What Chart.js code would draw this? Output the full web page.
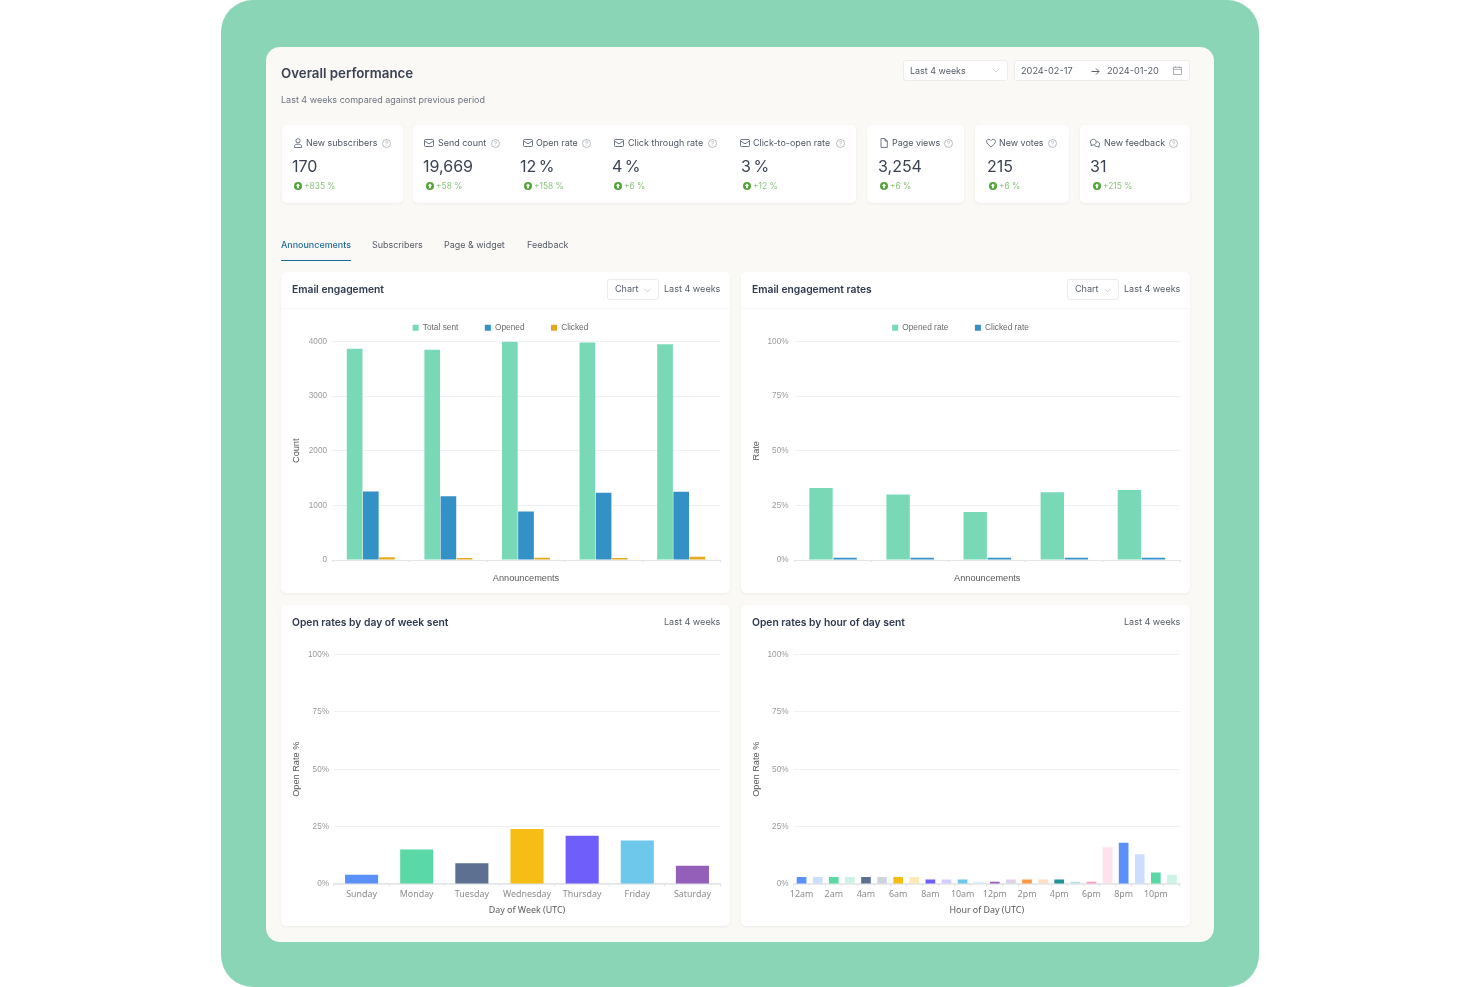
<!DOCTYPE html>
<html><head><meta charset="utf-8">
<script src="https://cdn.jsdelivr.net/npm/chart.js@4/dist/chart.umd.min.js"></script>
<style>
html,body{margin:0;padding:0;background:#fff;width:1480px;height:987px;overflow:hidden;font-family:Inter,sans-serif}
#outer{position:absolute;left:221px;top:0;width:1038px;height:987px;background:#8AD5B6;border-radius:32px}
#panel{position:absolute;left:266px;top:47px;width:948px;height:895px;background:#FBF9F6;border-radius:14px}
#ui{position:absolute;left:0;top:0;width:1480px;height:987px;filter:blur(.3px)}
.card{position:absolute;background:#fff;border-radius:5px;box-shadow:0 1px 3px rgba(60,60,60,.07)}
.t{position:absolute;white-space:nowrap;line-height:14px;transform:translateY(-7px)}
.ctl{position:absolute;background:#fff;border:1px solid #ececec;border-radius:3px;box-sizing:border-box}
.divider{position:absolute;height:1px;background:#f8f7f5}
canvas{position:absolute;filter:blur(.3px)}
svg{position:absolute;overflow:visible}
</style></head><body>
<div id="outer"></div><div id="panel"></div><div id="ui"></div>
<canvas id="c1" style="left:281px;top:297px;width:449px;height:296px"></canvas>
<canvas id="c2" style="left:741px;top:297px;width:449px;height:296px"></canvas>
<canvas id="c3" style="left:281px;top:635px;width:449px;height:291px"></canvas>
<canvas id="c4" style="left:741px;top:635px;width:449px;height:291px"></canvas>
<script>
// ---- chart data ----
const announcements = ["Announcement 1","Announcement 2","Announcement 3","Announcement 4","Announcement 5"];
const totalSent = [3866,3848,3995,3982,3951];
const opened = [1256,1165,890,1232,1250];
const clicked = [49,37,43,37,61];
const openedRate = [33,30,22,31,32];
const clickedRate = [1,1,1,1,1];
const days = ["Sunday","Monday","Tuesday","Wednesday","Thursday","Friday","Saturday"];
const dayRates = [4,15,9,24,21,19,8];
const dayColors = ["#5B8FF9","#5AD8A6","#5D7092","#F6BD16","#6F5EF9","#6DC8EC","#945FB9"];
const hours = ["12am","1am","2am","3am","4am","5am","6am","7am","8am","9am","10am","11am","12pm","1pm","2pm","3pm","4pm","5pm","6pm","7pm","8pm","9pm","10pm","11pm"];
const hourRates = [3,3,3,3,3,3,3,3,2,2,2,1,1,2,2,2,2,1,1,16,18,13,5,4];
const hourColors = ["#5B8FF9","#CEDDFD","#5AD8A6","#CEF3E4","#5D7092","#CED4DE","#F6BD16","#FCEBB9","#6F5EF9","#D3CEFD","#6DC8EC","#D3EEF9","#945FB9","#DFD0EA","#FF9845","#FFE0C7","#1E9493","#BBDEDE","#FF99C3","#FFE0ED","#5B8FF9","#CEDDFD","#5AD8A6","#CEF3E4"];
const pctTicks = [0,25,50,75,100];
// ---- page text ----
const kpiLabels = ["New subscribers","Send count","Open rate","Click through rate","Click-to-open rate","Page views","New votes","New feedback"];
const kpiValues = ["170","19,669","12 %","4 %","3 %","3,254","215","31"];
const kpiDeltas = ["+835 %","+58 %","+158 %","+6 %","+12 %","+6 %","+6 %","+215 %"];
const kpiIcons = ["user","mail","mail","mail","mail","file","heart","chat"];
const tabs = ["Announcements","Subscribers","Page & widget","Feedback"];

const ui = document.getElementById('ui');
function el(html){const d=document.createElement('div');d.innerHTML=html;const n=d.firstChild;ui.appendChild(n);return n;}
function text(x,y,s,css){el(`<div class="t" style="left:${x}px;top:${y}px;${css}">${s}</div>`);}
function box(cls,x,y,w,h){el(`<div class="${cls}" style="left:${x}px;top:${y}px;width:${w}px;height:${h}px"></div>`);}
function svg(x,y,inner,s=10){el(`<svg style="left:${x}px;top:${y}px" width="${s}" height="${s}" viewBox="0 0 10 10" fill="none" stroke="#4a5568" stroke-width=".8">${inner}</svg>`);}
const icons={
 user:'<circle cx="5" cy="2.8" r="2.1"/><path d="M1.4 9.5V8.3C1.4 6.9 2.6 6.2 5 6.2S8.6 6.9 8.6 8.3V9.5Z"/>',
 mail:'<rect x=".5" y="1.5" width="9" height="7" rx="1"/><path d="M.5 3L5 5.8 9.5 3"/>',
 file:'<path d="M2 .6H6L8.3 3V9.4H2Z"/><path d="M6 .6V3H8.3"/>',
 heart:'<path d="M5 8.8C2.4 6.9.6 5.4.6 3.5.6 2.2 1.6 1.3 2.8 1.3 3.7 1.3 4.5 1.8 5 2.6 5.5 1.8 6.3 1.3 7.2 1.3 8.4 1.3 9.4 2.2 9.4 3.5 9.4 5.4 7.6 6.9 5 8.8Z"/>',
 chat:'<path d="M.4 4.2C.4 2.5 1.7 1.3 3.4 1.3S6.2 2.5 6.2 4.1 4.9 6.9 3.2 6.9L1 7.6 1.3 6C.7 5.5.4 4.9.4 4.2Z"/><path d="M6.6 3.6C8.2 3.6 9.6 4.6 9.6 6.1 9.6 6.8 9.3 7.4 8.8 7.8L9.2 9.2 7.3 8.6C6 8.6 4.9 8 4.5 7"/>'
};
function help(x,y){el(`<svg style="left:${x}px;top:${y}px" width="9" height="9" viewBox="0 0 9 9" fill="none" stroke="#9aa0a8" stroke-width=".7"><circle cx="4.5" cy="4.5" r="4"/><path d="M3.4 3.5C3.4 2.8 3.9 2.4 4.5 2.4S5.6 2.8 5.6 3.4C5.6 4.2 4.5 4.2 4.5 5.2M4.5 6.1V6.7"/></svg>`);}
function up(x,y){el(`<svg style="left:${x}px;top:${y}px" width="8" height="8" viewBox="0 0 8 8"><circle cx="4" cy="4" r="4" fill="#52a33a"/><path d="M4 1.6L6.2 4H4.9V6.2H3.1V4H1.8Z" fill="#fff"/></svg>`);}

text(281,73,'Overall performance','font-size:13.3px;font-weight:600;color:#3a4253');
text(281,99.5,'Last 4 weeks compared against previous period','font-size:9px;color:#6d747f');

box('ctl',902.5,60,105,21); box('ctl',1013.5,60,176.5,21);
text(910,70.5,'Last 4 weeks','font-size:8.95px;color:#565d69');
el('<svg style="left:992px;top:68px" width="8" height="5" viewBox="0 0 8 5" fill="none" stroke="#c2c5c9" stroke-width=".8"><path d="M1 .8L4 4 7 .8"/></svg>');
text(1021,70.5,'2024-02-17','font-size:9.2px;color:#565d69');
text(1107,70.5,'2024-01-20','font-size:9.2px;color:#565d69');
el('<svg style="left:1091px;top:66.5px" width="9" height="9" viewBox="0 0 9 9" fill="none" stroke="#4a5059" stroke-width=".9"><path d="M.5 4.5H8M5 1.5L8 4.5 5 7.5"/></svg>');
el('<svg style="left:1173px;top:66px" width="9" height="9" viewBox="0 0 9 9" fill="none" stroke="#9aa0a8" stroke-width=".8"><rect x=".5" y="1.3" width="8" height="7.2"/><path d="M.5 3.4H8.5M2.6.3V2M6.4.3V2"/></svg>');

[[281.5,121],[413,443],[867,97],[975,94],[1080,110]].forEach(c=>box('card',c[0],125,c[1],78));

const iconX=[293,424,523,614,740,879,986,1090], labelX=[306,438,536,628,753,892,999,1104],
      valueX=[292,423,520,612,741,878,987,1090], upX=[294,426,524,614,743,880,989,1093], deltaX=[304,436,534,624,753,890,999,1103],
      helpX=[381.5,490.5,582,708,835.5,943.5,1048,1169];
kpiLabels.forEach((l,i)=>{
  svg(iconX[i],138,icons[kpiIcons[i]]);
  text(labelX[i],143,l,'font-size:8.95px;color:#4d5563');
  help(helpX[i],139);
  text(valueX[i],166,kpiValues[i],'font-size:16px;word-spacing:-2px;color:#3a4253');
  up(upX[i],181.5);
  text(deltaX[i],185.5,kpiDeltas[i],'font-size:8.4px;color:#8fc47f');
});

const tabX=[281,372,444,527];
tabs.forEach((t,i)=>text(tabX[i],245,t.replace('&','&amp;'),`font-size:8.95px;font-weight:${i?400:500};color:${i?'#545b67':'#1d6c98'}`));
el('<div style="position:absolute;left:281px;top:259.5px;width:70px;height:1.5px;background:#1d6c98"></div>');

function chartCard(x,y,title,dropdown){
  box('card',x,y,449,321);
  text(x+11,y+17,title,'font-size:10.3px;font-weight:600;color:#2e3a50');
  text(x+383,y+17,'Last 4 weeks','font-size:9.05px;color:#565d69');
  if(dropdown){
    box('ctl',x+326,y+7,52,21);
    text(x+334,y+17,'Chart','font-size:9.05px;color:#565d69');
    el(`<svg style="left:${x+363}px;top:${y+15.5}px" width="7" height="5" viewBox="0 0 7 5" fill="none" stroke="#c2c5c9" stroke-width=".8"><path d="M.6 .8L3.5 3.8 6.4 .8"/></svg>`);
    el(`<div class="divider" style="left:${x}px;top:${y+36}px;width:449px"></div>`);
  }
}
chartCard(281,272,'Email engagement',true);
chartCard(741,272,'Email engagement rates',true);
chartCard(281,605,'Open rates by day of week sent',false);
chartCard(741,605,'Open rates by hour of day sent',false);

// ---- charts ----
const GRID='#eef0f2', BASE='#e3e5e8';
function fixLegend(h){return {id:'fixLegend',beforeInit(c){const f=c.legend.fit;c.legend.fit=function(){f.call(this);this.height=h;};}};}
function opts(o){
  const pct=o.pct;
  return {
    responsive:false,animation:false,
    layout:{padding:{left:0,right:10,top:o.top,bottom:0}},
    plugins:{tooltip:{enabled:false},
      legend:{display:!!o.legend,position:'top',labels:{boxWidth:6,boxHeight:6,padding:26.5,color:'#6a6a6a',font:{family:'Liberation Sans',size:8.3}}}},
    scales:{
      x:{grid:{display:true,drawOnChartArea:false,drawTicks:true,tickLength:2,tickColor:'#d5d7da'},
         border:{color:BASE,width:o.baseW},
         afterFit(s){s.height=o.xh;},
         ticks:{display:!!o.xlabels,color:'#8c8c8c',padding:3.5,autoSkip:false,maxRotation:0,minRotation:0,font:{family:'Noto Sans',size:8.9},
           callback(v,i){const l=this.getLabelForValue(v);return o.every&&i%o.every?'':l;}},
         title:{display:true,text:o.xt,color:'#595959',padding:{top:0,bottom:o.xtp},font:{family:o.tf,size:o.tfs}}},
      y:{min:0,max:pct?100:4000,
         grid:{color:GRID,drawTicks:false},border:{display:false},
         afterFit(s){s.width=o.yw;},
         afterBuildTicks(s){s.ticks=(pct?pctTicks:[0,1000,2000,3000,4000]).map(v=>({value:v}));},
         ticks:{color:'#9a9a9a',padding:o.yp,font:{family:'Liberation Sans',size:8.2},callback:v=>pct?v+'%':v},
         title:{display:true,text:o.yt,color:'#595959',padding:{top:9.5,bottom:0},font:{family:'Liberation Sans',size:9.2}}}
    }
  };
}
const barOpts={categoryPercentage:0.625,barPercentage:0.97,borderWidth:0};
new Chart(document.getElementById('c1'),{type:'bar',
  plugins:[fixLegend(44.5)],
  data:{labels:announcements,datasets:[
    {label:'Total sent',data:totalSent,backgroundColor:'#79D8B6',...barOpts},
    {label:'Opened',data:opened,backgroundColor:'#3491C6',...barOpts},
    {label:'Clicked',data:clicked,backgroundColor:'#E5A823',...barOpts}]},
  options:opts({legend:true,top:0,xh:33,yw:51,yp:5,xt:'Announcements',yt:'Count',xtp:9.5,tf:'Liberation Sans',tfs:9.2,baseW:1})});
new Chart(document.getElementById('c2'),{type:'bar',
  plugins:[fixLegend(44.5)],
  data:{labels:announcements,datasets:[
    {label:'Opened rate',data:openedRate,backgroundColor:'#79D8B6',...barOpts},
    {label:'Clicked rate',data:clickedRate,backgroundColor:'#3491C6',...barOpts}]},
  options:opts({legend:true,pct:true,top:0,xh:33,yw:53.5,yp:6,xt:'Announcements',yt:'Rate',xtp:9.5,tf:'Liberation Sans',tfs:9.2,baseW:1})});
const singleOpts={categoryPercentage:1,barPercentage:0.6,borderWidth:0};
new Chart(document.getElementById('c3'),{type:'bar',
  data:{labels:days,datasets:[{label:'Open rate',data:dayRates,backgroundColor:dayColors,...singleOpts}]},
  options:opts({pct:true,top:19.5,xh:42,yw:53,yp:5,xlabels:true,xt:'Day of Week (UTC)',yt:'Open Rate %',xtp:10.5,tf:'Noto Sans',tfs:8.9,baseW:1.5})});
new Chart(document.getElementById('c4'),{type:'bar',
  data:{labels:hours,datasets:[{label:'Open rate',data:hourRates,backgroundColor:hourColors,...singleOpts}]},
  options:opts({pct:true,top:19.5,xh:42,yw:52.5,yp:5,xlabels:true,every:2,xt:'Hour of Day (UTC)',yt:'Open Rate %',xtp:10.5,tf:'Noto Sans',tfs:8.9,baseW:1.5})});
</script>
</body></html>
